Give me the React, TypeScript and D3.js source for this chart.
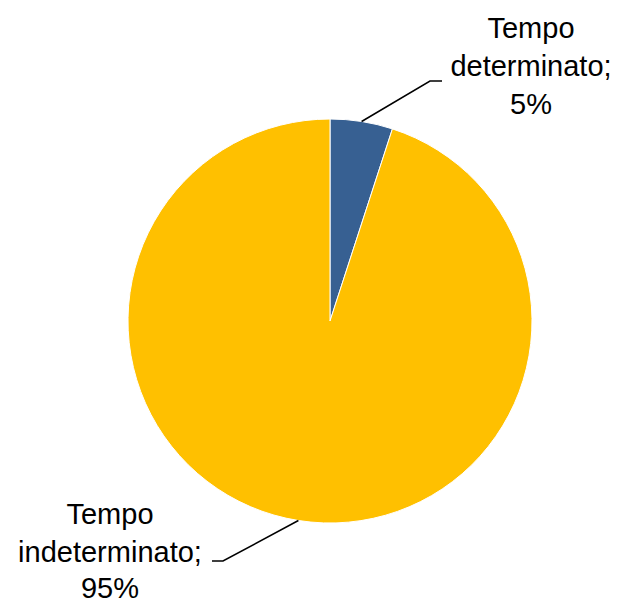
import React from "react";
import * as d3 from "d3";

const categories = ["Tempo determinato", "Tempo indeterminato"];
const values = [5, 95];
const colors = ["#376092", "#FFC000"];

export default function App() {
  const width = 621;
  const height = 604;
  const cx = 330;
  const cy = 321;
  const r = 202;
  const pie = d3.pie<number>().sort(null).value((d) => d)(values);
  const arc = d3.arc<d3.PieArcDatum<number>>().innerRadius(0).outerRadius(r);
  const font = "'Liberation Sans', Arial, sans-serif";
  const fs = 29;

  const mid = (d: d3.PieArcDatum<number>) => (d.startAngle + d.endAngle) / 2;
  const a0 = mid(pie[0]);
  const p0 = [cx + r * Math.sin(a0), cy - r * Math.cos(a0)];
  const a1 = mid(pie[1]);
  const p1 = [cx + r * Math.sin(a1), cy - r * Math.cos(a1)];

  return (
    <svg width={width} height={height} style={{ position: "absolute", left: 0, top: 0 }}>
      <rect width={width} height={height} fill="#fff" />
      <g transform={`translate(${cx},${cy})`}>
        {pie.map((d, i) => (
          <path key={categories[i]} d={arc(d) || ""} fill={colors[i]} stroke="#fff" strokeWidth={1} />
        ))}
      </g>
      <polyline
        points={`${p0[0]},${p0[1]} 430,81 442,81`}
        fill="none"
        stroke="#000"
        strokeWidth={1.5}
      />
      <polyline
        points={`${p1[0]},${p1[1]} 223,561 212,561`}
        fill="none"
        stroke="#000"
        strokeWidth={1.5}
      />
      <text fontFamily={font} fontSize={fs} textAnchor="middle" fill="#000">
        <tspan x={531} y={38}>Tempo</tspan>
        <tspan x={531} y={76}>{"determinato;"}</tspan>
        <tspan x={531} y={114}>{`${values[0]}%`}</tspan>
      </text>
      <text fontFamily={font} fontSize={fs} textAnchor="middle" fill="#000">
        <tspan x={110} y={524}>Tempo</tspan>
        <tspan x={110} y={562}>{"indeterminato;"}</tspan>
        <tspan x={110} y={598}>{`${values[1]}%`}</tspan>
      </text>
    </svg>
  );
}
